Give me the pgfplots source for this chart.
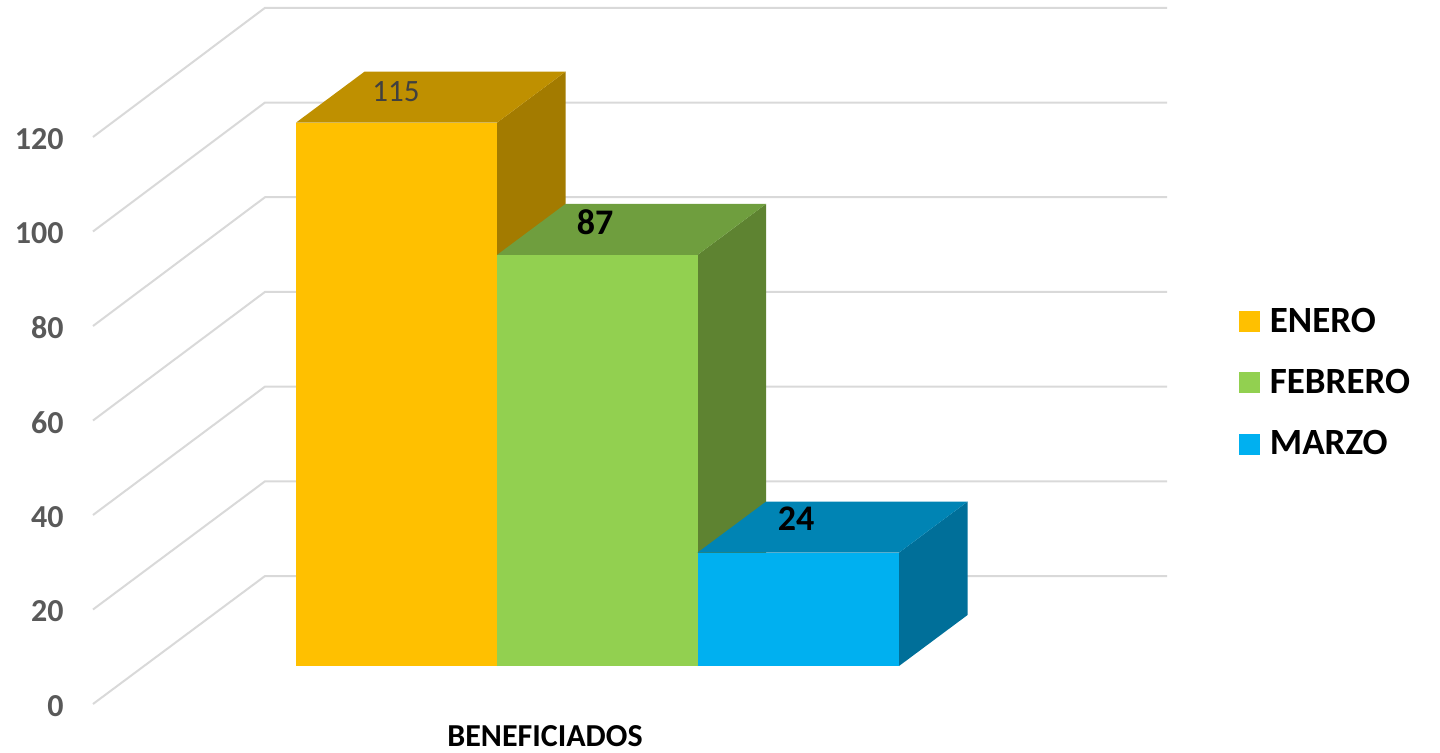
\documentclass[border=0pt]{standalone}
\usepackage{pgfplots}
\pgfplotsset{compat=1.18}
\usepackage{fontspec}
\setmainfont{Carlito}
\definecolor{gridc}{HTML}{D9D9D9}
\definecolor{ytop}{HTML}{BF9000}
\definecolor{yside}{HTML}{A37B00}
\definecolor{yfront}{HTML}{FFC000}
\definecolor{gtop}{HTML}{6F9E3E}
\definecolor{gside}{HTML}{5E8331}
\definecolor{gfront}{HTML}{92D050}
\definecolor{btop}{HTML}{0084B4}
\definecolor{bside}{HTML}{006F99}
\definecolor{bfront}{HTML}{00B0F0}
\definecolor{ticktxt}{HTML}{595959}
\begin{document}
\begin{tikzpicture}
\begin{axis}[
  at={(0,0)}, anchor=south west,
  x=0.5pt, y=2.3625pt,
  xmin=80, xmax=1440, ymin=-11.85, ymax=140.95,
  clip=false,
  axis line style={draw=none},
  major tick length=0pt,
  tick style={draw=none},
  ytick={-8.04,11.96,31.96,51.96,71.96,91.96,111.96},
  yticklabels={0,20,40,60,80,100,120},
  yticklabel style={font=\fontsize{16}{18}\selectfont\bfseries, text=ticktxt, anchor=east, xshift=-8pt, yshift=-1pt, inner sep=0pt},
  ytick pos=left,
  xtick={545},
  xticklabels={BENEFICIADOS},
  xticklabel style={font=\fontsize{16}{18}\selectfont\bfseries, text=black, anchor=center, yshift=-7pt, inner sep=0pt, text depth=0pt},
  xtick pos=bottom,
  legend image code/.code={\fill[#1,draw=none] (0pt,-5.25pt) rectangle (10.5pt,5.25pt); \path (14.5pt,0pt);},
  legend style={at={(axis cs:1238.5,76.2)}, anchor=north west, draw=none, fill=none,
    font=\fontsize{18.5}{20}\selectfont\bfseries, row sep=15pt, inner sep=0pt, outer sep=0pt,
    nodes={inner sep=1pt}},
  legend cell align=left,
]
% gridlines: left wall + back wall
\addplot[gridc, line width=1pt, forget plot] coordinates {(93,-8.04) (265,19.05) (1167,19.05)};
\addplot[gridc, line width=1pt, forget plot] coordinates {(93,11.96) (265,39.09) (1167,39.09)};
\addplot[gridc, line width=1pt, forget plot] coordinates {(93,31.96) (265,59.13) (1167,59.13)};
\addplot[gridc, line width=1pt, forget plot] coordinates {(93,51.96) (265,79.18) (1167,79.18)};
\addplot[gridc, line width=1pt, forget plot] coordinates {(93,71.96) (265,99.22) (1167,99.22)};
\addplot[gridc, line width=1pt, forget plot] coordinates {(93,91.96) (265,119.26) (1167,119.26)};
\addplot[gridc, line width=1pt, forget plot] coordinates {(93,111.96) (265,139.30) (1167,139.30)};
% ENERO = 115
\addplot[fill=yside, draw=none, forget plot] coordinates {(497,0) (565.5,10.79) (565.5,125.79) (497,115)} --cycle;
\addplot[fill=ytop, draw=none, forget plot] coordinates {(296,115) (364.5,125.79) (565.5,125.79) (497,115)} --cycle;
\addplot[fill=yfront, draw=none, forget plot] coordinates {(296,0) (296,115) (497,115) (497,0)} --cycle;
% FEBRERO = 87
\addplot[fill=gside, draw=none, forget plot] coordinates {(697.5,0) (766,10.79) (766,97.79) (697.5,87)} --cycle;
\addplot[fill=gtop, draw=none, forget plot] coordinates {(497,87) (565.5,97.79) (766,97.79) (697.5,87)} --cycle;
\addplot[fill=gfront, draw=none, forget plot] coordinates {(497,0) (497,87) (697.5,87) (697.5,0)} --cycle;
% MARZO = 24
\addplot[fill=bside, draw=none, forget plot] coordinates {(899,0) (967.5,10.79) (967.5,34.79) (899,24)} --cycle;
\addplot[fill=btop, draw=none, forget plot] coordinates {(697.5,24) (766,34.79) (967.5,34.79) (899,24)} --cycle;
\addplot[fill=bfront, draw=none, forget plot] coordinates {(697.5,0) (697.5,24) (899,24) (899,0)} --cycle;
% data labels
\addplot[draw=none, forget plot, point meta=explicit symbolic, nodes near coords,
  nodes near coords style={anchor=center, inner sep=0pt, text=black!75, font=\fontsize{15.5}{17}\selectfont}]
  coordinates {(396,121.48)[115]};
\addplot[draw=none, forget plot, point meta=explicit symbolic, nodes near coords,
  nodes near coords style={anchor=center, inner sep=0pt, text=black, font=\fontsize{18}{20}\selectfont\bfseries}]
  coordinates {(595,93.97)[87] (796,31.2)[24]};
% legend
\addlegendimage{fill=yfront}\addlegendentry{ENERO}
\addlegendimage{fill=gfront}\addlegendentry{FEBRERO}
\addlegendimage{fill=bfront}\addlegendentry{MARZO}
\end{axis}
\pgfresetboundingbox
\useasboundingbox (-40pt,-15pt) rectangle (680pt,361pt);
\end{tikzpicture}
\end{document}
